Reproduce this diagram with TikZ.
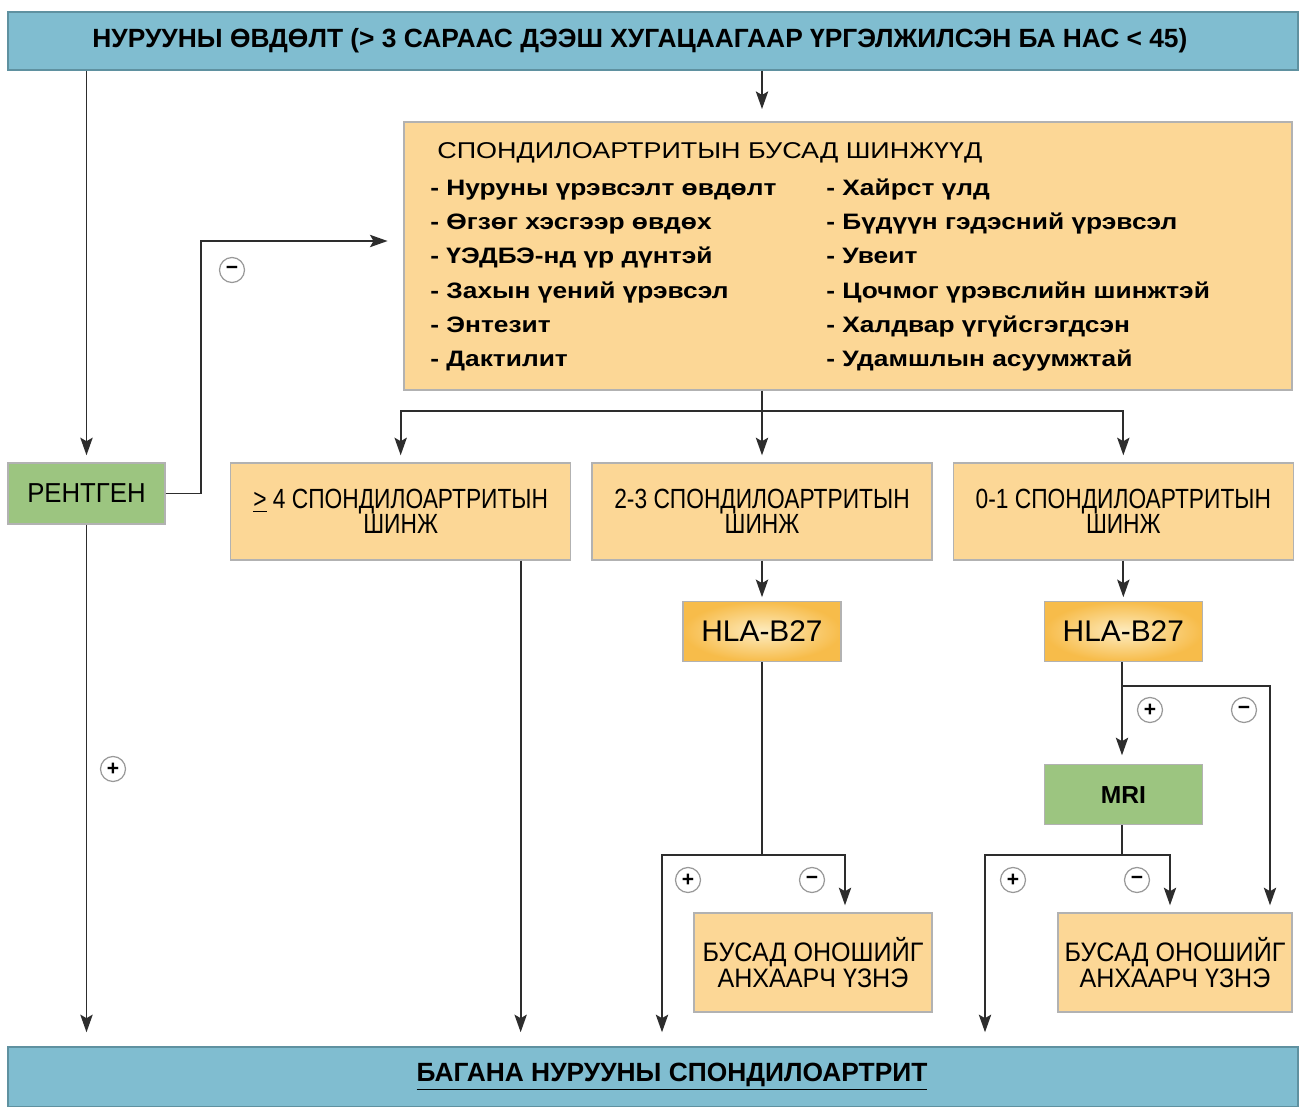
\documentclass[tikz,border=0pt]{standalone}
\usepackage{fontspec}
\setmainfont{Liberation Sans}
\newfontfamily\wideff[FakeStretch=1.18]{Liberation Sans}
\newfontfamily\narrowff[FakeStretch=0.82]{Liberation Sans}
\newfontfamily\slimff[FakeStretch=0.94]{Liberation Sans}
\usepackage{tikz}
\usetikzlibrary{arrows.meta,positioning}
\definecolor{barblue}{RGB}{128,189,208}
\definecolor{barline}{RGB}{95,145,160}
\definecolor{boxorange}{RGB}{252,215,150}
\definecolor{boxgreen}{RGB}{156,197,128}
\definecolor{hlaedge}{RGB}{247,188,74}
\definecolor{hlamid}{RGB}{253,236,192}
\definecolor{linegray}{RGB}{45,45,45}
\tikzstyle{banner} = [rectangle, draw=barline, line width=0.8pt, fill=barblue, minimum width=25.8cm]
\tikzstyle{bannertext} = [inner sep=0pt, text=black, font=\bfseries\fontsize{15}{17}\selectfont]
\tikzstyle{signbox} = [rectangle, draw=gray!60, line width=0.8pt, fill=boxorange, minimum width=17.76cm, minimum height=5.36cm]
\tikzstyle{item} = [anchor=base west, inner sep=0pt, font=\wideff\bfseries\fontsize{12.7}{15}\selectfont]
\tikzstyle{countbox} = [rectangle, draw=gray!60, line width=0.8pt, fill=boxorange, minimum width=6.8cm, minimum height=1.94cm, align=center, font=\narrowff\fontsize{15.8}{14.5}\selectfont]
\tikzstyle{testbox} = [rectangle, draw=gray!60, line width=0.8pt, inner color=hlamid, outer color=hlaedge, minimum width=3.16cm, minimum height=1.2cm, font=\fontsize{17}{20}\selectfont]
\tikzstyle{imgbox} = [rectangle, draw=gray!60, line width=0.8pt, fill=boxgreen, minimum width=3.16cm, minimum height=1.2cm]
\tikzstyle{otherbox} = [rectangle, draw=gray!60, line width=0.8pt, fill=boxorange, minimum height=1.98cm, align=center, font=\slimff\fontsize{15.2}{14.7}\selectfont]
\tikzstyle{sign} = [circle, draw=gray!80, line width=0.7pt, fill=white, inner sep=0pt, minimum size=0.5cm, font=\bfseries\fontsize{12}{12}\selectfont]
\tikzstyle{tline} = [draw=linegray, line width=1.1pt]
\tikzstyle{tedge} = [draw=linegray, line width=1.1pt, >={Stealth[length=10pt,width=7pt,inset=2pt]}, ->, shorten >=4pt]

\begin{document}
\begin{tikzpicture}[x=0.02cm, y=-0.02cm]
\path[fill=white, use as bounding box] (0,0) rectangle (1305,1106);

% boxes =============================
\node[banner, minimum height=1.16cm] (onset) at (653,41) {};
\node[bannertext] (onsettext) at (640,41) {НУРУУНЫ ӨВДӨЛТ (> 3 САРААС ДЭЭШ ХУГАЦААГААР ҮРГЭЛЖИЛСЭН БА НАС < 45)};

\node[signbox] (signs) at (848,256) {};
\node[anchor=base west, inner sep=0pt, font=\wideff\fontsize{13}{16}\selectfont] (signtitle) at (437,158) {СПОНДИЛОАРТРИТЫН БУСАД ШИНЖҮҮД};

\node[item] (l1) at (430,195) {- Нуруны үрэвсэлт өвдөлт};
\node[item] (l2) at (430,229) {- Өгзөг хэсгээр өвдөх};
\node[item] (l3) at (430,263) {- ҮЭДБЭ-нд үр дүнтэй};
\node[item] (l4) at (430,298) {- Захын үений үрэвсэл};
\node[item] (l5) at (430,332) {- Энтезит};
\node[item] (l6) at (430,366) {- Дактилит};
\node[item] (r1) at (826,195) {- Хайрст үлд};
\node[item] (r2) at (826,229) {- Бүдүүн гэдэсний үрэвсэл};
\node[item] (r3) at (826,263) {- Увеит};
\node[item] (r4) at (826,298) {- Цочмог үрэвслийн шинжтэй};
\node[item] (r5) at (826,332) {- Халдвар үгүйсгэгдсэн};
\node[item] (r6) at (826,366) {- Удамшлын асуумжтай};

\node[imgbox, minimum width=3.14cm, minimum height=1.22cm, font=\slimff\fontsize{15.6}{17}\selectfont] (xray) at (86.5,493.5) {РЕНТГЕН};
\node[countbox] (some) at (762,511.5) {2-3 СПОНДИЛОАРТРИТЫН\\ШИНЖ};
\node[countbox, left=0.4cm of some] (many) {\underline{>} 4 СПОНДИЛОАРТРИТЫН\\ШИНЖ};
\node[countbox, right=0.4cm of some] (few) {0-1 СПОНДИЛОАРТРИТЫН\\ШИНЖ};

\node[testbox, below=0.8cm of some] (hlaA) {HLA-B27};
\node[testbox, below=0.8cm of few] (hlaB) {HLA-B27};
\node[imgbox, below=2.04cm of hlaB, font=\bfseries\fontsize{14}{16}\selectfont] (mri) {MRI};

\node[otherbox, minimum width=4.76cm] (otherA) at (813,962.5) {БУСАД ОНОШИЙГ\\АНХААРЧ ҮЗНЭ};
\node[otherbox, minimum width=4.68cm] (otherB) at (1175,962.5) {БУСАД ОНОШИЙГ\\АНХААРЧ ҮЗНЭ};

\node[banner, minimum height=1.2cm] (axspa) at (653,1077) {};
\node[bannertext] (axspatext) at (672,1077) {\underline{БАГАНА НУРУУНЫ СПОНДИЛОАРТРИТ}};

% plus / minus marks
\node[sign] (xneg) at (232,270) {−};
\node[sign] (xpos) at (113,769) {+};
\node[sign] (hApos) at (688,880) {+};
\node[sign] (hAneg) at (812,880) {−};
\node[sign] (hBpos) at (1150,710) {+};
\node[sign] (hBneg) at (1244,710) {−};
\node[sign] (mpos) at (1013,880) {+};
\node[sign] (mneg) at (1137,880) {−};

% edges from onset
\draw[tedge, shorten >=7pt] (onset.south -| some) -- (signs.north -| some);
\draw[tedge] (onset.south -| xray) -- (xray.north);
\draw[tedge, shorten >=9pt] (xray.east) -- ++(35,0) |- ([yshift=0.3cm]signs.west);
\draw[tedge, shorten >=8pt] (xray.south) -- (xray.south |- axspa.north);

% edges signs to counts
\draw[tline] (signs.south -| some) -- ++(0,20) coordinate (fork);
\draw[tedge] (fork) -- (some.north);
\draw[tedge] (fork) -| (many.north);
\draw[tedge] (fork) -| (few.north);

\coordinate (manyout) at ([xshift=2.4cm]many.south);
\draw[tedge, shorten >=8pt] (manyout) -- (manyout |- axspa.north);

% edges 2-3 signs
\draw[tedge, shorten >=2pt] (some.south) -- (hlaA.north);
\coordinate (forkA) at (762,855);
\coordinate (yesA) at (662,855);
\coordinate (noA) at (845,855);
\draw[tline] (hlaA.south) -- (forkA);
\draw[tedge, shorten >=8pt] (forkA) -- (yesA) -- (yesA |- axspa.north);
\draw[tedge] (forkA) -- (noA) -- (noA |- otherA.north);

% edges 0-1 signs
\draw[tedge, shorten >=2pt] (few.south) -- (hlaB.north);
\coordinate (forkB) at (1122,686);
\coordinate (noB) at (1270,686);
\draw[tline] (forkB |- hlaB.south) -- (forkB);
\draw[tedge, shorten >=5pt] (forkB) -- (forkB |- mri.north);
\draw[tedge] (forkB) -- (noB) -- (noB |- otherB.north);

\coordinate (forkC) at (1122,855);
\coordinate (yesC) at (985,855);
\coordinate (noC) at (1170,855);
\draw[tline] (forkC |- mri.south) -- (forkC);
\draw[tedge, shorten >=8pt] (forkC) -- (yesC) -- (yesC |- axspa.north);
\draw[tedge] (forkC) -- (noC) -- (noC |- otherB.north);

\end{tikzpicture}
\end{document}
